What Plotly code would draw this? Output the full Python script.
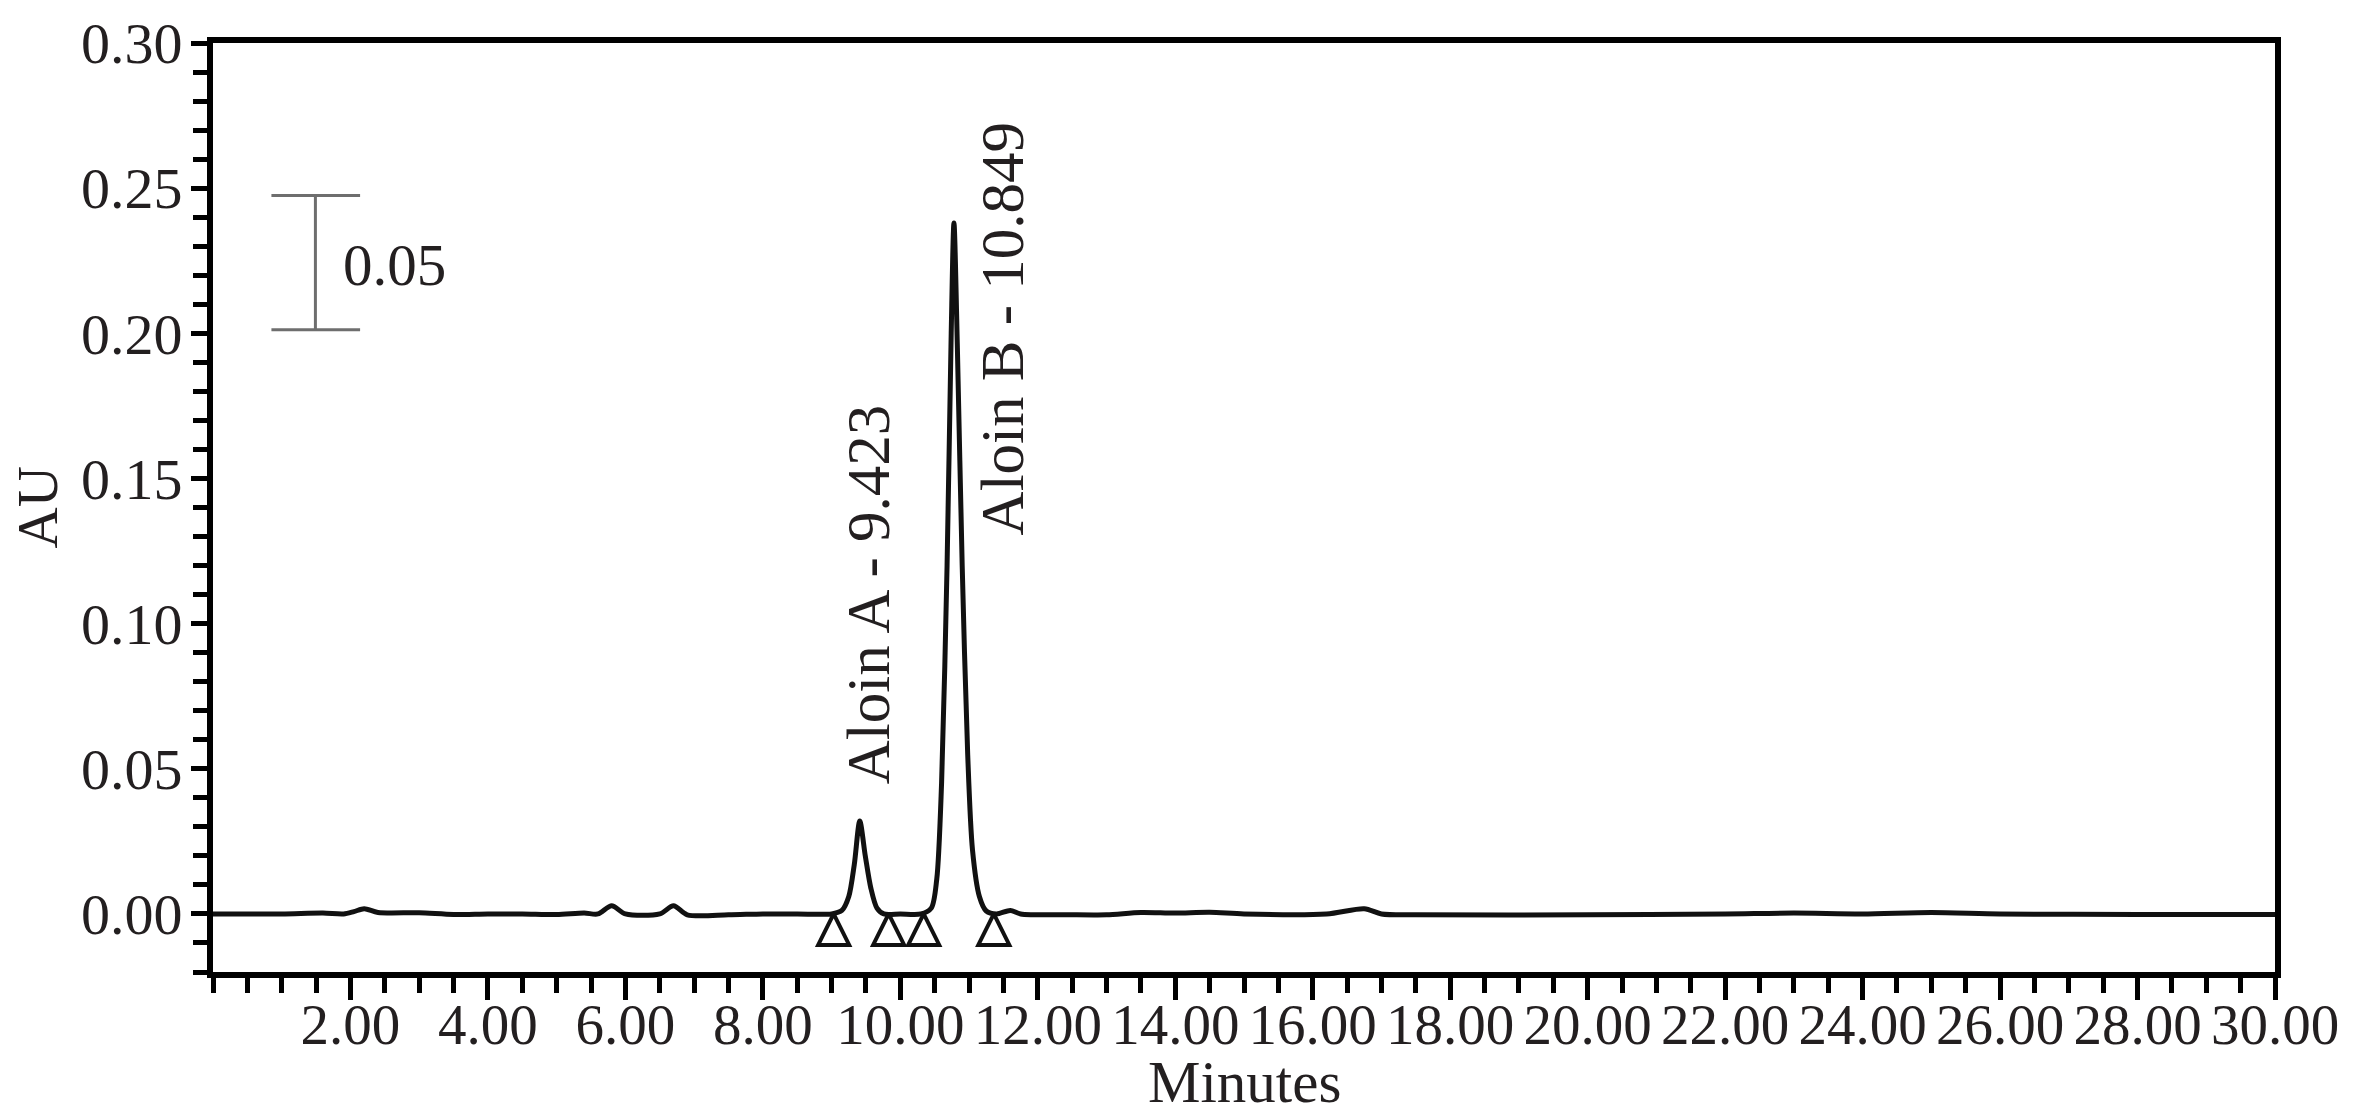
import plotly.graph_objects as go

# chromatogram trace
minutes = [0.0, 1.0, 1.6, 1.9, 2.05, 2.2, 2.4, 3.0, 3.5, 4.0, 4.5, 5.0, 5.4, 5.6, 5.8, 6.0,
           6.5, 6.7, 6.9, 7.5, 8.0, 8.5, 9.0, 9.15, 9.25, 9.33, 9.41, 9.49, 9.57, 9.66,
           9.76, 10.0, 10.3, 10.45, 10.53, 10.6, 10.68, 10.74, 10.78, 10.83, 10.9, 10.98,
           11.05, 11.15, 11.25, 11.4, 11.6, 11.75, 12.5, 13.0, 13.5, 14.0, 14.5, 15.0,
           16.2, 16.75, 17.0, 17.5, 20.0, 22.0, 23.0, 24.0, 25.0, 26.0, 28.0, 30.0]
au = [0.0, 0.0, 0.0003, 0.0, 0.0008, 0.0018, 0.0005, 0.0004, -0.0002, 0.0, 0.0, -0.0002,
      0.0003, 0.0, 0.0028, 0.0, 0.0, 0.0028, -0.0003, -0.0003, 0.0, 0.0, 0.0, 0.0012,
      0.006, 0.017, 0.032, 0.020, 0.009, 0.002, 0.0, 0.0, 0.0, 0.002, 0.012, 0.045,
      0.120, 0.200, 0.238, 0.195, 0.120, 0.055, 0.022, 0.006, 0.001, 0.0, 0.0012, 0.0,
      -0.0003, -0.0003, 0.0005, 0.0003, 0.0006, 0.0, 0.0, 0.0018, 0.0, -0.0003, -0.0003,
      0.0, 0.0003, 0.0, 0.0005, 0.0, -0.0002, -0.0002]

# integration start/end markers (apex sits on the baseline)
mark_x = [9.03, 9.83, 10.34, 11.36]
mark_y = [0.0, 0.0, 0.0, 0.0]

# peak labels
peak_labels = ["Aloin A - 9.423", "Aloin B - 10.849"]
peak_label_x = [9.54, 11.49]
peak_label_y = [0.110, 0.2016]

x_ticks = [2, 4, 6, 8, 10, 12, 14, 16, 18, 20, 22, 24, 26, 28, 30]
x_ticktext = ["%.2f" % v for v in x_ticks]
y_ticks = [0.0, 0.05, 0.10, 0.15, 0.20, 0.25, 0.30]
y_ticktext = ["%.2f" % v for v in y_ticks]

# scale bar (0.05 AU)
bar_x = [0.85, 1.49, 2.14]
bar_y = [0.2012, 0.2475]

FONT = "Liberation Serif"
INK = "#231f20"

fig = go.Figure()
fig.add_trace(go.Scatter(x=minutes, y=au, mode="lines",
                         line=dict(color="#111111", width=5, shape="spline", smoothing=0.8),
                         showlegend=False))
fig.add_trace(go.Scatter(x=mark_x, y=mark_y, mode="markers",
                         marker=dict(symbol="arrow-up-open", size=31, color="#111111",
                                     line=dict(width=4, color="#111111")),
                         showlegend=False))

for txt, px, py in zip(peak_labels, peak_label_x, peak_label_y):
    fig.add_annotation(x=px, y=py, text=txt, textangle=-90, showarrow=False,
                       xanchor="center", yanchor="middle",
                       font=dict(family=FONT, size=61, color=INK))

# scale bar
for yy in bar_y:
    fig.add_shape(type="line", x0=bar_x[0], x1=bar_x[2], y0=yy, y1=yy,
                  line=dict(color="#6e6e6e", width=3))
fig.add_shape(type="line", x0=bar_x[1], x1=bar_x[1], y0=bar_y[0], y1=bar_y[1],
              line=dict(color="#6e6e6e", width=3))
fig.add_annotation(x=1.86, y=0.2235, text="0.05", showarrow=False,
                   xanchor="left", yanchor="middle",
                   font=dict(family=FONT, size=59, color=INK))

# axis titles placed by hand
fig.add_annotation(xref="paper", yref="paper", x=0.5, y=0, yshift=-110,
                   text="Minutes", showarrow=False, xanchor="center", yanchor="middle",
                   font=dict(family=FONT, size=59, color=INK))
fig.add_annotation(xref="paper", yref="paper", x=0, y=0.5, xshift=-176,
                   text="AU", textangle=-90, showarrow=False,
                   xanchor="center", yanchor="middle",
                   font=dict(family=FONT, size=57, color=INK))

fig.update_xaxes(range=[0, 30], tickvals=x_ticks, ticktext=x_ticktext,
                 ticks="outside", ticklen=22, tickwidth=5, tickcolor="#000",
                 ticklabelstandoff=-24,
                 minor=dict(dtick=0.5, tick0=0, ticks="outside", ticklen=15,
                            tickwidth=5, tickcolor="#000"),
                 showline=True, linewidth=6, linecolor="#000", mirror=True,
                 showgrid=False, zeroline=False, automargin=False,
                 tickfont=dict(family=FONT, size=57, color=INK))
fig.update_yaxes(range=[-0.02, 0.30], tickvals=y_ticks, ticktext=y_ticktext,
                 ticks="outside", ticklen=16, tickwidth=5, tickcolor="#000",
                 ticklabelstandoff=-3,
                 minor=dict(dtick=0.01, tick0=0, ticks="outside", ticklen=14,
                            tickwidth=5, tickcolor="#000"),
                 showline=True, linewidth=6, linecolor="#000", mirror=True,
                 showgrid=False, zeroline=False, automargin=False,
                 tickfont=dict(family=FONT, size=58, color=INK))

# the page body adds an 8px offset, so margins are shifted to compensate
fig.update_layout(width=2360, height=1118,
                  margin=dict(l=205, r=93, t=35, b=154),
                  plot_bgcolor="white", paper_bgcolor="white")

fig.write_html("out.html")
